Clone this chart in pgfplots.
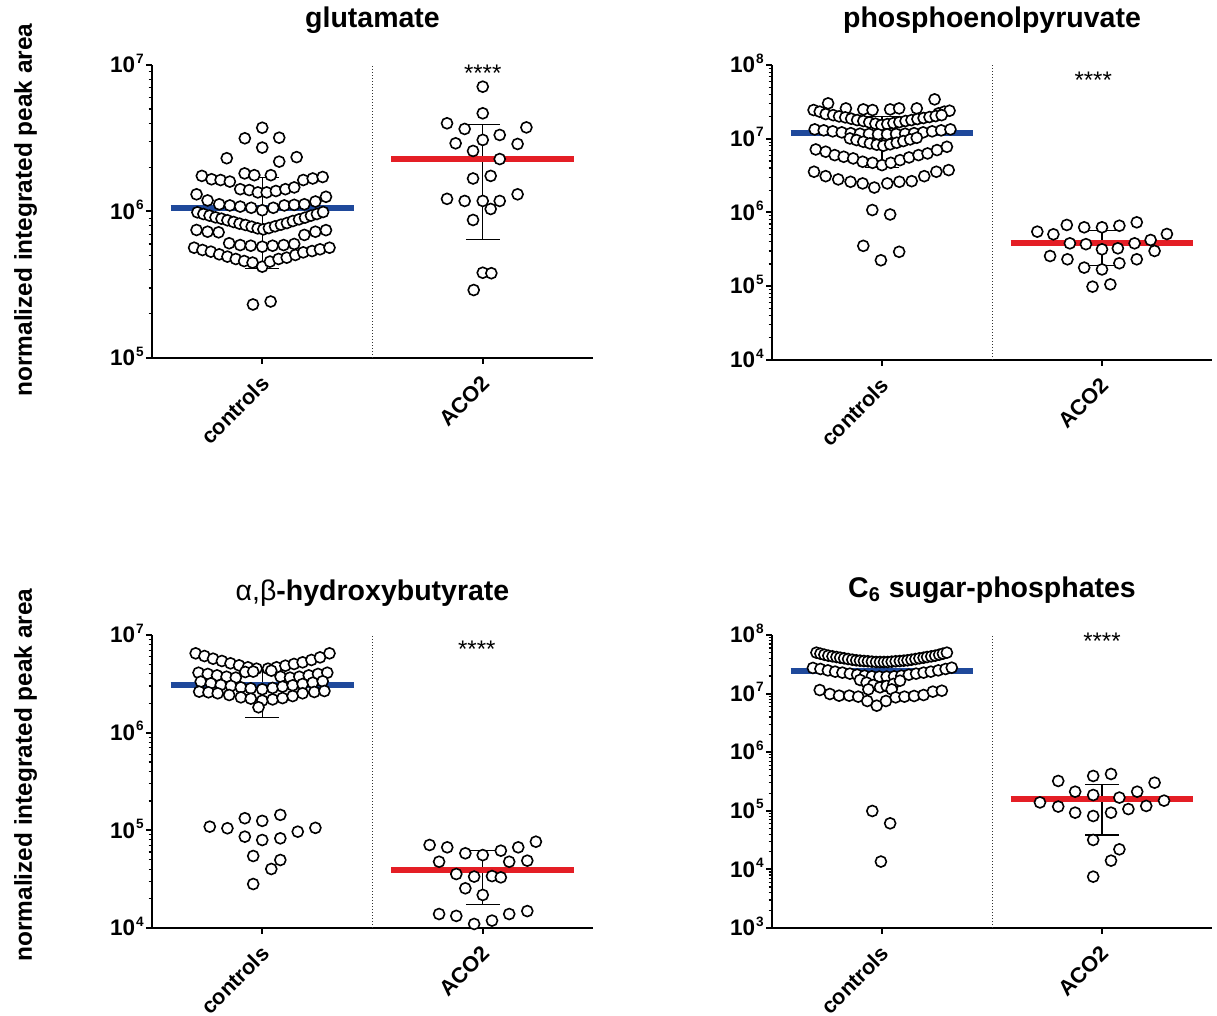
\documentclass[border=0pt]{standalone}
\usepackage{fontspec}
\setmainfont{Liberation Sans}
\usepackage{pgfplots}
\pgfplotsset{compat=1.18}
\definecolor{mblue}{RGB}{31,73,155}
\definecolor{mred}{RGB}{228,30,37}
\newcommand{\tkl}[1]{\fontsize{11.25}{12}\selectfont\bfseries 10\kern0.4pt\raisebox{4.8pt}[0pt][0pt]{\fontsize{6.8}{7}\selectfont #1}}
\tikzset{
  sepline/.style={line width=0.5pt, dash pattern=on 0.5pt off 1pt, black!80},
  stars/.style={anchor=north, inner sep=0pt, font=\fontsize{12}{13}\selectfont},
  ttl/.style={anchor=base, font=\fontsize{14.25}{16}\selectfont\bfseries},
  ylab/.style={anchor=base, rotate=90, font=\fontsize{12.2}{14}\selectfont\bfseries},
}
\begin{document}
\begin{tikzpicture}[x=1pt,y=1pt]
% ---------------- glutamate ----------------
\begin{semilogyaxis}[scale only axis, anchor=south west,
    xmin=-0.5, xmax=1.5, axis x line=bottom, axis y line=left,
    axis line style={-, line width=1.3pt},
    xtick={0,1}, xticklabels={controls,ACO2},
    xticklabel style={xshift=4pt, yshift=-5.5pt, rotate=45, anchor=east, font=\fontsize{10.8}{12}\selectfont\bfseries},
    yticklabel style={inner sep=1pt},
    tick align=outside, major tick length=3pt, minor tick length=1.7pt,
    tick style={line width=1pt, black}, minor tick style={line width=0.6pt, black},
    clip=false,
  at={(76pt,-179pt)}, width=220.5pt, height=146.5pt,
  ymin=1e5, ymax=1e7, ytick={1e5,1e6,1e7}, yticklabels={\tkl{5},\tkl{6},\tkl{7}}]
\draw[sepline] (rel axis cs:0.5,0) -- (rel axis cs:0.5,1);
\addplot[only marks, mark=*, mark size=2.75pt, mark options={line width=0.8pt, draw=black, fill=white}] coordinates {
(0,3.73e6) (-0.079,3.16e6) (0.077,3.19e6) (0,2.73e6) (-0.161,2.31e6) (0.156,2.35e6) (0.077,2.19e6)
(-0.080,1.82e6) (-0.036,1.77e6) (0.039,1.77e6)
(-0.274,1.75e6) (-0.230,1.66e6) (-0.189,1.64e6) (-0.147,1.60e6) (-0.100,1.42e6) (-0.059,1.40e6) (-0.020,1.35e6) (0.020,1.35e6) (0.062,1.38e6) (0.105,1.42e6) (0.145,1.46e6) (0.186,1.64e6) (0.229,1.68e6) (0.274,1.72e6)
(-0.298,1.31e6) (-0.248,1.19e6) (-0.195,1.12e6) (-0.147,1.10e6) (-0.100,1.08e6) (-0.050,1.06e6) (0,1.02e6) (0.050,1.06e6) (0.100,1.10e6) (0.145,1.11e6) (0.191,1.12e6) (0.241,1.17e6) (0.289,1.26e6)
(-0.294,9.87e5) (-0.267,9.61e5) (-0.239,9.37e5) (-0.212,9.12e5) (-0.185,8.93e5) (-0.158,8.71e5) (-0.130,8.48e5) (-0.103,8.26e5) (-0.076,8.09e5) (-0.048,7.88e5) (-0.021,7.67e5) (0.005,7.55e5) (0.030,7.71e5) (0.058,7.92e5) (0.085,8.13e5) (0.112,8.34e5) (0.139,8.61e5) (0.167,8.84e5) (0.194,9.08e5) (0.221,9.37e5) (0.248,9.61e5) (0.276,9.92e5)
(-0.298,7.48e5) (-0.248,7.28e5) (-0.198,7.21e5) (0.191,6.92e5) (0.241,7.28e5) (0.289,7.46e5)
(-0.150,6.07e5) (-0.100,5.90e5) (-0.052,5.84e5) (0,5.75e5) (0.047,5.84e5) (0.097,5.90e5) (0.145,6.00e5)
(-0.309,5.66e5) (-0.271,5.46e5) (-0.233,5.32e5) (-0.195,5.10e5) (-0.158,4.92e5) (-0.120,4.74e5) (-0.082,4.59e5) (-0.044,4.48e5) (0,4.20e5) (0.035,4.55e5) (0.074,4.74e5) (0.111,4.84e5) (0.150,5.05e5) (0.186,5.26e5) (0.226,5.37e5) (0.262,5.52e5) (0.305,5.66e5)
(-0.042,2.32e5) (0.038,2.43e5)
};
\addplot[only marks, mark=*, mark size=2.75pt, mark options={line width=0.8pt, draw=black, fill=white}] coordinates {
(1,7.11e6) (1,4.68e6) (0.838,4.00e6) (0.918,3.66e6) (1.198,3.75e6) (1.077,3.33e6) (1,3.08e6) (0.877,2.92e6) (1.158,2.89e6) (0.956,2.59e6) (1.077,2.28e6) (0.956,1.68e6) (1.036,1.75e6) (0.838,1.22e6) (0.918,1.18e6) (1,1.18e6) (1.077,1.18e6) (1.158,1.31e6) (1.036,1.04e6) (0.956,8.75e5) (1,3.82e5) (1.039,3.79e5) (0.959,2.91e5)
};
\addplot[black, line width=0.65pt, no marks] coordinates {(0,4.1e5) (0,1.71e6)};
\addplot[black, line width=0.65pt, no marks] coordinates {(-0.077,4.1e5) (0.077,4.1e5)};
\addplot[black, line width=0.65pt, no marks] coordinates {(-0.077,1.71e6) (0.077,1.71e6)};
\addplot[black, line width=0.65pt, no marks] coordinates {(1,6.46e5) (1,3.94e6)};
\addplot[black, line width=0.65pt, no marks] coordinates {(0.923,6.46e5) (1.077,6.46e5)};
\addplot[black, line width=0.65pt, no marks] coordinates {(0.923,3.94e6) (1.077,3.94e6)};
\addplot[mblue, line width=3pt, no marks] coordinates {(-0.415,1.06e6) (0.415,1.06e6)};
\addplot[mred, line width=3pt, no marks] coordinates {(0.585,2.28e6) (1.415,2.28e6)};
\node[stars] at (rel axis cs:0.75,1.0) {****};
\end{semilogyaxis}
% ---------------- phosphoenolpyruvate ----------------
\begin{semilogyaxis}[scale only axis, anchor=south west,
    xmin=-0.5, xmax=1.5, axis x line=bottom, axis y line=left,
    axis line style={-, line width=1.3pt},
    xtick={0,1}, xticklabels={controls,ACO2},
    xticklabel style={xshift=4pt, yshift=-5.5pt, rotate=45, anchor=east, font=\fontsize{10.8}{12}\selectfont\bfseries},
    yticklabel style={inner sep=1pt},
    tick align=outside, major tick length=3pt, minor tick length=1.7pt,
    tick style={line width=1pt, black}, minor tick style={line width=0.6pt, black},
    clip=false,
  at={(386pt,-180pt)}, width=220pt, height=147.5pt,
  ymin=1e4, ymax=1e8, ytick={1e4,1e5,1e6,1e7,1e8}, yticklabels={\tkl{4},\tkl{5},\tkl{6},\tkl{7},\tkl{8}}]
\draw[sepline] (rel axis cs:0.5,0) -- (rel axis cs:0.5,1);
\addplot[only marks, mark=*, mark size=2.75pt, mark options={line width=0.8pt, draw=black, fill=white}] coordinates {
(-0.311,2.45e7) (-0.283,2.33e7) (-0.256,2.16e7) (-0.245,3.02e7) (-0.164,2.58e7) (-0.085,2.50e7) (-0.043,2.45e7) (0.037,2.50e7) (0.078,2.58e7) (0.158,2.58e7) (0.239,3.42e7) (0.257,2.21e7) (0.283,2.33e7) (0.307,2.40e7)
(-0.222,2.09e7) (-0.195,2.01e7) (-0.167,1.95e7) (-0.140,1.87e7) (-0.113,1.79e7) (-0.085,1.74e7) (-0.058,1.67e7) (-0.030,1.60e7) (-0.003,1.53e7) (0.024,1.58e7) (0.052,1.63e7) (0.079,1.68e7) (0.107,1.74e7) (0.134,1.79e7) (0.161,1.85e7) (0.189,1.91e7) (0.216,1.97e7) (0.244,2.03e7) (0.271,2.09e7)
(-0.306,1.34e7) (-0.265,1.30e7) (-0.224,1.26e7) (-0.183,1.22e7) (-0.142,1.19e7) (-0.100,1.17e7) (-0.059,1.16e7) (-0.018,1.15e7) (0.023,1.15e7) (0.064,1.16e7) (0.105,1.17e7) (0.146,1.19e7) (0.187,1.22e7) (0.228,1.26e7) (0.269,1.30e7) (0.311,1.34e7)
(-0.146,1.01e7) (-0.116,9.6e6) (-0.085,9.1e6) (-0.055,8.65e6) (-0.024,8.3e6) (0.006,8.04e6) (0.037,8.4e6) (0.067,8.83e6) (0.097,9.3e6) (0.128,9.8e6) (0.158,1.03e7)
(-0.301,7.16e6) (-0.256,6.67e6) (-0.215,6.00e6) (-0.174,5.70e6) (-0.131,5.41e6) (-0.088,4.88e6) (-0.043,4.72e6) (0,4.39e6) (0.040,4.72e6) (0.082,5.13e6) (0.123,5.58e6) (0.166,6.00e6) (0.207,6.32e6) (0.250,7.02e6) (0.295,7.78e6)
(-0.309,3.57e6) (-0.256,3.11e6) (-0.199,2.81e6) (-0.143,2.61e6) (-0.088,2.48e6) (-0.035,2.18e6) (0.024,2.48e6) (0.079,2.61e6) (0.135,2.66e6) (0.192,3.11e6) (0.247,3.57e6) (0.303,3.76e6)
(-0.044,1.08e6) (0.037,9.4e5) (-0.085,3.53e5) (-0.005,2.25e5) (0.078,2.93e5)
};
\addplot[only marks, mark=*, mark size=2.75pt, mark options={line width=0.8pt, draw=black, fill=white}] coordinates {
(0.706,5.50e5) (0.779,5.06e5) (0.840,6.78e5) (0.919,6.30e5) (1,6.30e5) (1.079,6.62e5) (1.158,7.36e5) (1.295,5.11e5) (1.221,4.24e5) (0.854,3.82e5) (0.927,3.72e5) (1,3.17e5) (1.072,3.27e5) (1.148,3.82e5) (1.239,3.01e5) (0.764,2.57e5) (0.843,2.32e5) (0.919,1.79e5) (1,1.69e5) (1.079,2.05e5) (1.158,2.32e5) (0.957,9.87e4) (1.038,1.06e5)
};
\addplot[black, line width=0.65pt, no marks] coordinates {(0,4.1e6) (0,2.0e7)};
\addplot[black, line width=0.65pt, no marks] coordinates {(-0.077,4.1e6) (0.077,4.1e6)};
\addplot[black, line width=0.65pt, no marks] coordinates {(-0.077,2.0e7) (0.077,2.0e7)};
\addplot[black, line width=0.65pt, no marks] coordinates {(1,1.93e5) (1,5.70e5)};
\addplot[black, line width=0.65pt, no marks] coordinates {(0.923,1.93e5) (1.077,1.93e5)};
\addplot[black, line width=0.65pt, no marks] coordinates {(0.923,5.70e5) (1.077,5.70e5)};
\addplot[mblue, line width=3pt, no marks] coordinates {(-0.415,1.21e7) (0.415,1.21e7)};
\addplot[mred, line width=3pt, no marks] coordinates {(0.585,3.84e5) (1.415,3.84e5)};
\node[stars] at (rel axis cs:0.73,0.976) {****};
\end{semilogyaxis}
% ---------------- hydroxybutyrate ----------------
\begin{semilogyaxis}[scale only axis, anchor=south west,
    xmin=-0.5, xmax=1.5, axis x line=bottom, axis y line=left,
    axis line style={-, line width=1.3pt},
    xtick={0,1}, xticklabels={controls,ACO2},
    xticklabel style={xshift=4pt, yshift=-5.5pt, rotate=45, anchor=east, font=\fontsize{10.8}{12}\selectfont\bfseries},
    yticklabel style={inner sep=1pt},
    tick align=outside, major tick length=3pt, minor tick length=1.7pt,
    tick style={line width=1pt, black}, minor tick style={line width=0.6pt, black},
    clip=false,
  at={(76pt,-464pt)}, width=220.5pt, height=146.5pt,
  ymin=1e4, ymax=1e7, ytick={1e4,1e5,1e6,1e7}, yticklabels={\tkl{4},\tkl{5},\tkl{6},\tkl{7}}]
\draw[sepline] (rel axis cs:0.5,0) -- (rel axis cs:0.5,1);
\addplot[only marks, mark=*, mark size=2.75pt, mark options={line width=0.8pt, draw=black, fill=white}] coordinates {
(-0.302,6.49e6) (-0.262,6.09e6) (-0.223,5.72e6) (-0.183,5.42e6) (-0.144,5.13e6) (-0.105,4.89e6) (-0.065,4.67e6) (-0.026,4.52e6) (0.026,4.52e6) (0.065,4.67e6) (0.105,4.85e6) (0.144,5.05e6) (0.183,5.25e6) (0.223,5.55e6) (0.262,5.90e6) (0.305,6.49e6)
(-0.289,4.11e6) (-0.247,3.99e6) (-0.205,3.86e6) (-0.162,3.74e6) (-0.120,3.66e6) (-0.077,4.18e6) (-0.041,4.22e6) (0.041,4.31e6) (0.083,3.74e6) (0.126,3.66e6) (0.168,3.74e6) (0.211,3.86e6) (0.253,3.99e6) (0.295,4.11e6)
(-0.279,3.33e6) (-0.233,3.20e6) (-0.188,3.08e6) (-0.142,3.01e6) (-0.097,2.91e6) (-0.052,2.84e6) (0,2.78e6) (0.047,2.87e6) (0.092,2.96e6) (0.138,3.05e6) (0.183,3.15e6) (0.229,3.25e6) (0.274,3.36e6)
(-0.286,2.63e6) (-0.244,2.59e6) (-0.202,2.53e6) (-0.150,2.43e6) (-0.097,2.30e6) (-0.052,2.23e6) (0,2.13e6) (0.047,2.19e6) (0.092,2.26e6) (0.138,2.37e6) (0.183,2.53e6) (0.236,2.61e6) (0.282,2.67e6)
(-0.017,1.82e6)
(-0.238,1.09e5) (-0.158,1.05e5) (-0.079,1.33e5) (0,1.25e5) (0.082,1.44e5) (0.161,9.69e4) (0.241,1.06e5) (-0.079,8.61e4) (0,7.96e4) (0.082,8.28e4) (-0.041,5.46e4) (0.082,4.97e4) (0.041,4.02e4) (-0.041,2.82e4)
};
\addplot[only marks, mark=*, mark size=2.75pt, mark options={line width=0.8pt, draw=black, fill=white}] coordinates {
(0.759,7.08e4) (0.839,6.70e4) (0.921,5.82e4) (1,5.58e4) (1.082,6.19e4) (1.161,6.70e4) (1.241,7.65e4) (0.802,4.77e4) (1.120,4.77e4) (1.202,4.89e4) (0.880,3.57e4) (0.961,3.36e4) (1.042,3.40e4) (1.082,3.30e4) (0.921,2.55e4) (1,2.18e4) (0.802,1.39e4) (0.880,1.33e4) (0.961,1.10e4) (1.042,1.19e4) (1.120,1.39e4) (1.202,1.49e4)
};
\addplot[black, line width=0.65pt, no marks] coordinates {(0,1.44e6) (0,4.66e6)};
\addplot[black, line width=0.65pt, no marks] coordinates {(-0.077,1.44e6) (0.077,1.44e6)};
\addplot[black, line width=0.65pt, no marks] coordinates {(-0.077,4.66e6) (0.077,4.66e6)};
\addplot[black, line width=0.65pt, no marks] coordinates {(1,1.75e4) (1,6.2e4)};
\addplot[black, line width=0.65pt, no marks] coordinates {(0.923,1.75e4) (1.077,1.75e4)};
\addplot[black, line width=0.65pt, no marks] coordinates {(0.923,6.2e4) (1.077,6.2e4)};
\addplot[mblue, line width=3pt, no marks] coordinates {(-0.415,3.05e6) (0.415,3.05e6)};
\addplot[mred, line width=3pt, no marks] coordinates {(0.585,3.93e4) (1.415,3.93e4)};
\node[stars] at (rel axis cs:0.7365,0.98) {****};
\end{semilogyaxis}
% ---------------- C6 sugar-phosphates ----------------
\begin{semilogyaxis}[scale only axis, anchor=south west,
    xmin=-0.5, xmax=1.5, axis x line=bottom, axis y line=left,
    axis line style={-, line width=1.3pt},
    xtick={0,1}, xticklabels={controls,ACO2},
    xticklabel style={xshift=4pt, yshift=-5.5pt, rotate=45, anchor=east, font=\fontsize{10.8}{12}\selectfont\bfseries},
    yticklabel style={inner sep=1pt},
    tick align=outside, major tick length=3pt, minor tick length=1.7pt,
    tick style={line width=1pt, black}, minor tick style={line width=0.6pt, black},
    clip=false,
  at={(386pt,-464pt)}, width=220pt, height=146.5pt,
  ymin=1e3, ymax=1e8, ytick={1e3,1e4,1e5,1e6,1e7,1e8}, yticklabels={\tkl{3},\tkl{4},\tkl{5},\tkl{6},\tkl{7},\tkl{8}}]
\draw[sepline] (rel axis cs:0.5,0) -- (rel axis cs:0.5,1);
\addplot[only marks, mark=*, mark size=2.75pt, mark options={line width=0.8pt, draw=black, fill=white}] coordinates {
(-0.298,5.00e7) (-0.280,4.80e7) (-0.262,4.61e7) (-0.244,4.44e7) (-0.225,4.32e7) (-0.207,4.21e7) (-0.190,4.10e7) (-0.172,4.00e7) (-0.154,3.89e7) (-0.135,3.79e7) (-0.117,3.70e7) (-0.100,3.65e7) (-0.082,3.60e7) (-0.064,3.56e7) (-0.046,3.51e7) (-0.027,3.46e7) (-0.009,3.46e7) (0.009,3.46e7) (0.026,3.46e7) (0.044,3.51e7) (0.062,3.56e7) (0.081,3.60e7) (0.099,3.65e7) (0.116,3.70e7) (0.134,3.79e7) (0.152,3.89e7) (0.170,4.00e7) (0.189,4.10e7) (0.205,4.21e7) (0.224,4.32e7) (0.242,4.44e7) (0.260,4.61e7) (0.277,4.80e7) (0.295,5.00e7)
(-0.314,2.74e7) (-0.280,2.63e7) (-0.246,2.49e7) (-0.213,2.37e7) (-0.180,2.28e7) (-0.146,2.19e7) (-0.113,2.10e7) (-0.079,2.02e7) (-0.046,1.97e7) (-0.012,1.95e7) (0.021,1.95e7) (0.055,1.97e7) (0.088,2.02e7) (0.122,2.10e7) (0.155,2.19e7) (0.189,2.28e7) (0.222,2.37e7) (0.256,2.49e7) (0.289,2.63e7) (0.317,2.77e7)
(-0.100,1.71e7) (-0.070,1.54e7) (-0.040,1.40e7) (-0.009,1.28e7) (0.021,1.35e7) (0.052,1.46e7) (0.082,1.66e7) (-0.062,1.18e7) (0.044,1.18e7)
(-0.283,1.15e7) (-0.237,9.84e6) (-0.195,9.22e6) (-0.149,9.22e6) (-0.108,8.87e6) (-0.067,7.48e6) (-0.024,6.22e6) (0.018,7.48e6) (0.062,8.63e6) (0.102,8.87e6) (0.146,9.10e6) (0.189,9.46e6) (0.231,1.08e7) (0.272,1.12e7)
(-0.044,9.93e4) (0.037,6.11e4) (-0.005,1.36e4)
};
\addplot[only marks, mark=*, mark size=2.75pt, mark options={line width=0.8pt, draw=black, fill=white}] coordinates {
(0.960,3.93e5) (1.041,4.25e5) (0.801,3.23e5) (1.239,3.02e5) (0.878,2.12e5) (0.960,1.86e5) (1.079,1.68e5) (1.160,2.12e5) (0.718,1.39e5) (0.801,1.18e5) (0.878,9.29e4) (0.960,8.15e4) (1.041,9.29e4) (1.120,1.07e5) (1.201,1.21e5) (1.282,1.49e5) (0.960,3.18e4) (1.079,2.20e4) (1.041,1.41e4) (0.960,7.52e3)
};
\addplot[black, line width=0.65pt, no marks] coordinates {(0,1.46e7) (0,3.46e7)};
\addplot[black, line width=0.65pt, no marks] coordinates {(-0.077,1.46e7) (0.077,1.46e7)};
\addplot[black, line width=0.65pt, no marks] coordinates {(-0.077,3.46e7) (0.077,3.46e7)};
\addplot[black, line width=0.65pt, no marks] coordinates {(1,3.86e4) (1,2.79e5)};
\addplot[black, line width=0.65pt, no marks] coordinates {(0.923,3.86e4) (1.077,3.86e4)};
\addplot[black, line width=0.65pt, no marks] coordinates {(0.923,2.79e5) (1.077,2.79e5)};
\addplot[mblue, line width=3pt, no marks] coordinates {(-0.415,2.46e7) (0.415,2.46e7)};
\addplot[mred, line width=3pt, no marks] coordinates {(0.585,1.59e5) (1.415,1.59e5)};
\node[stars] at (rel axis cs:0.75,1.007) {****};
\end{semilogyaxis}
% ---------------- titles and labels ----------------
\node[ttl] at (186.25,-14) {glutamate};
\node[ttl] at (496,-14) {phosphoenolpyruvate};
\node[ttl] at (186.25,-300) {{\mdseries α,β}-hydroxybutyrate};
\node[ttl] at (496,-298.5) {C\textsubscript{6} sugar-phosphates};
\node[ylab] at (16,-105) {normalized integrated peak area};
\node[ylab] at (16,-387.5) {normalized integrated peak area};
\pgfresetboundingbox
\path[use as bounding box] (0,0) rectangle (608.5,-508);
\end{tikzpicture}
\end{document}
